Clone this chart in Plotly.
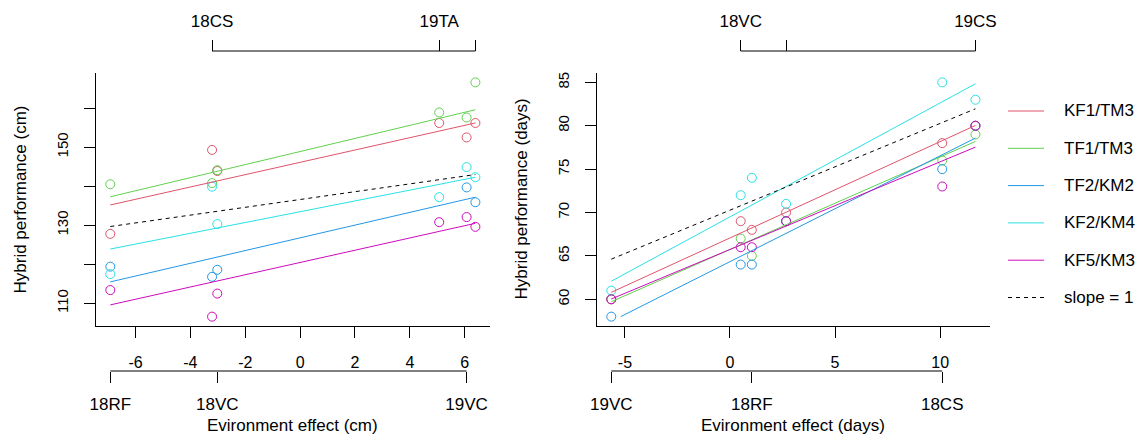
import plotly.graph_objects as go

# ---------------- data ----------------
genotypes = ["KF1/TM3", "TF1/TM3", "TF2/KM2", "KF2/KM4", "KF5/KM3"]
colors = ["#DF536B", "#61D04F", "#2297E6", "#28E2E5", "#CD0BBC"]

# Plant height (cm) panel
env_cm_names = ["18RF", "18CS", "18VC", "19TA", "19VC", ""]
env_cm_effect = [-6.92, -3.21, -3.02, 5.07, 6.07, 6.39]
env_cm_side = ["bottom", "top", "bottom", "top", "bottom", "top"]

cm_KF1_TM3 = [127.8, 149.3, 143.9, 156.2, 152.5, 156.2]
cm_TF1_TM3 = [140.5, 140.8, 144.1, 158.9, 157.6, 166.6]
cm_TF2_KM2 = [119.4, 116.8, 118.6, None, 139.7, 135.9]
cm_KF2_KM4 = [117.5, 139.9, 130.3, 137.2, 144.9, 142.3]
cm_KF5_KM3 = [113.4, 106.6, 112.5, 130.8, 132.1, 129.6]

fit_cm_intercept = [146.12, 148.89, 126.78, 133.47, 120.47]
fit_cm_slope = [1.578, 1.675, 1.630, 1.382, 1.570]
ref_cm_intercept = 136.6  # slope = 1 line

# Flowering time (days) panel
env_d_names = ["19VC", "18VC", "18RF", "", "18CS", "19CS"]
env_d_effect = [-5.65, 0.51, 1.04, 2.67, 10.10, 11.68]
env_d_side = ["bottom", "top", "bottom", "top", "bottom", "top"]

d_KF1_TM3 = [60, 69, 68, 70, 78, 80]
d_TF1_TM3 = [60, 67, 65, 69, 76, 79]
d_TF2_KM2 = [58, 64, 64, 69, 75, 80]
d_KF2_KM4 = [61, 72, 74, 71, 85, 83]
d_KF5_KM3 = [60, 66, 66, 69, 73, 80]

fit_d_intercept = [67.07, 65.74, 64.34, 69.50, 65.74]
fit_d_slope = [1.110, 1.066, 1.219, 1.313, 1.010]
fit_d_xstart = [-5.65, -5.65, -5.20, -5.65, -5.65]
ref_d_intercept = 70.27

cm_ticks = [-6, -4, -2, 0, 2, 4, 6]
cm_yticks = [110, 120, 130, 140, 150, 160]
cm_yticktext = ["110", "", "130", "", "150", ""]
d_ticks = [-5, 0, 5, 10]
d_yticks = [60, 65, 70, 75, 80, 85]

cm_values = [cm_KF1_TM3, cm_TF1_TM3, cm_TF2_KM2, cm_KF2_KM4, cm_KF5_KM3]
d_values = [d_KF1_TM3, d_TF1_TM3, d_TF2_KM2, d_KF2_KM4, d_KF5_KM3]

# ---------------- layout helpers ----------------
OFF = 8                      # default page body margin
W, H = 1144 - OFF, 437 - OFF
FONT = "Liberation Sans, Arial, Helvetica, sans-serif"


def px(p):
    return (p - OFF) / W


def py(p):
    return 1 - (p - OFF) / H


fig = go.Figure()

DASH = "4px,4px"

# left panel
for i, g in enumerate(genotypes):
    fig.add_trace(go.Scatter(x=env_cm_effect, y=cm_values[i], mode="markers",
                             marker=dict(symbol="circle-open", size=9, color=colors[i], line=dict(width=1)),
                             showlegend=False, xaxis="x", yaxis="y", cliponaxis=False))
xmin_cm, xmax_cm = min(env_cm_effect), max(env_cm_effect)
for i, g in enumerate(genotypes):
    fig.add_trace(go.Scatter(x=[xmin_cm, xmax_cm],
                             y=[fit_cm_intercept[i] + fit_cm_slope[i] * xmin_cm,
                                fit_cm_intercept[i] + fit_cm_slope[i] * xmax_cm],
                             mode="lines", line=dict(color=colors[i], width=1),
                             showlegend=False, xaxis="x", yaxis="y"))
fig.add_trace(go.Scatter(x=[xmin_cm, xmax_cm], y=[ref_cm_intercept + xmin_cm, ref_cm_intercept + xmax_cm],
                         mode="lines", line=dict(color="black", width=1, dash=DASH),
                         showlegend=False, xaxis="x", yaxis="y"))

# right panel
for i, g in enumerate(genotypes):
    fig.add_trace(go.Scatter(x=env_d_effect, y=d_values[i], mode="markers",
                             marker=dict(symbol="circle-open", size=9, color=colors[i], line=dict(width=1)),
                             showlegend=False, xaxis="x2", yaxis="y2", cliponaxis=False))
xmax_d = max(env_d_effect)
for i, g in enumerate(genotypes):
    xs = fit_d_xstart[i]
    fig.add_trace(go.Scatter(x=[xs, xmax_d],
                             y=[fit_d_intercept[i] + fit_d_slope[i] * xs,
                                fit_d_intercept[i] + fit_d_slope[i] * xmax_d],
                             mode="lines", line=dict(color=colors[i], width=1),
                             showlegend=False, xaxis="x2", yaxis="y2"))
xmin_d = min(env_d_effect)
fig.add_trace(go.Scatter(x=[xmin_d, xmax_d], y=[ref_d_intercept + xmin_d, ref_d_intercept + xmax_d],
                         mode="lines", line=dict(color="black", width=1, dash=DASH),
                         showlegend=False, xaxis="x2", yaxis="y2"))

# dummy traces so the environment axes are built
for ax, main_y, xs in [("x3", "y", env_cm_effect), ("x4", "y", env_cm_effect),
                       ("x5", "y2", env_d_effect), ("x6", "y2", env_d_effect)]:
    fig.add_trace(go.Scatter(x=xs, y=[None] * len(xs), mode="markers", showlegend=False,
                             hoverinfo="skip", xaxis=ax, yaxis=main_y))


# ranges (R style 4% expansion)
def expand(lo, hi):
    s = (hi - lo) * 0.04
    return [lo - s, hi + s]


cm_vals_flat = [v for row in cm_values for v in row if v is not None]
d_vals_flat = [v for row in d_values for v in row if v is not None]
xr_cm = expand(xmin_cm, xmax_cm)
yr_cm = expand(min(cm_vals_flat), max(cm_vals_flat))
xr_d = expand(xmin_d, xmax_d)
yr_d = expand(min(d_vals_flat), max(d_vals_flat))

L_dom = [px(95.7), px(490)]
R_dom = [px(596.7), px(990)]
Y_dom = [py(326), py(73)]

common_x = dict(showgrid=False, zeroline=False, showline=True, linecolor="black", linewidth=1,
                ticks="outside", ticklen=11, tickcolor="black", tickwidth=1,
                tickfont=dict(family=FONT, size=16, color="black"), automargin=False,
                ticklabelstandoff=11, mirror=False)
common_y = dict(showgrid=False, zeroline=False, showline=True, linecolor="black", linewidth=1,
                ticks="outside", ticklen=11, tickcolor="black", tickwidth=1, tickangle=-90,
                tickfont=dict(family=FONT, size=15, color="black"), automargin=False,
                ticklabelstandoff=10, mirror=False)
env_axis = dict(showgrid=False, zeroline=False, showline=False, ticks="outside", ticklen=11,
                tickcolor="black", tickwidth=1, tickfont=dict(family=FONT, size=17, color="black"),
                automargin=False, anchor="free")


def side_sel(eff, names, sides, which):
    return ([e for e, s in zip(eff, sides) if s == which],
            [n for n, s in zip(names, sides) if s == which])


cb_x, cb_t = side_sel(env_cm_effect, env_cm_names, env_cm_side, "bottom")
ct_x, ct_t = side_sel(env_cm_effect, env_cm_names, env_cm_side, "top")
db_x, db_t = side_sel(env_d_effect, env_d_names, env_d_side, "bottom")
dt_x, dt_t = side_sel(env_d_effect, env_d_names, env_d_side, "top")

BOT_Y = 371
TOP_Y = 51

fig.update_layout(
    width=W, height=H, template="none",
    margin=dict(l=0, r=0, t=0, b=0, pad=0),
    paper_bgcolor="white", plot_bgcolor="white",
    font=dict(family=FONT, color="black"),
    xaxis=dict(domain=L_dom, anchor="y", range=xr_cm, tickvals=cm_ticks,
               ticktext=[str(t) for t in cm_ticks], **common_x),
    yaxis=dict(domain=Y_dom, anchor="x", range=yr_cm, tickvals=cm_yticks, ticktext=cm_yticktext, **common_y),
    xaxis2=dict(domain=R_dom, anchor="y2", range=xr_d, tickvals=d_ticks,
                ticktext=[str(t) for t in d_ticks], **common_x),
    yaxis2=dict(domain=Y_dom, anchor="x2", range=yr_d, tickvals=d_yticks, **common_y),
    xaxis3=dict(overlaying="x", side="bottom", position=py(BOT_Y), range=xr_cm, tickvals=cb_x, ticktext=cb_t,
                ticklabelstandoff=7, **env_axis),
    xaxis4=dict(overlaying="x", side="top", position=py(TOP_Y), range=xr_cm, tickvals=ct_x, ticktext=ct_t,
                ticklabelstandoff=6, **env_axis),
    xaxis5=dict(overlaying="x2", side="bottom", position=py(BOT_Y), range=xr_d, tickvals=db_x, ticktext=db_t,
                ticklabelstandoff=7, **env_axis),
    xaxis6=dict(overlaying="x2", side="top", position=py(TOP_Y), range=xr_d, tickvals=dt_x, ticktext=dt_t,
                ticklabelstandoff=6, **env_axis),
    showlegend=False,
)

shapes = []
for xref, xs, yy in [("x", cb_x, BOT_Y), ("x", ct_x, TOP_Y), ("x2", db_x, BOT_Y), ("x2", dt_x, TOP_Y)]:
    shapes.append(dict(type="line", xref=xref, yref="paper", x0=min(xs), x1=max(xs),
                       y0=py(yy), y1=py(yy), line=dict(color="black", width=1)))

annotations = []
TITLE_SIZE = 17
annotations.append(dict(text="Evironment effect (cm)", xref="paper", yref="paper", x=sum(L_dom) / 2, y=py(425),
                        xanchor="center", yanchor="middle", showarrow=False, font=dict(size=TITLE_SIZE)))
annotations.append(dict(text="Evironment effect (days)", xref="paper", yref="paper", x=sum(R_dom) / 2, y=py(425),
                        xanchor="center", yanchor="middle", showarrow=False, font=dict(size=TITLE_SIZE)))
annotations.append(dict(text="Hybrid performance (cm)", xref="paper", yref="paper", x=px(20), y=sum(Y_dom) / 2,
                        xanchor="center", yanchor="middle", showarrow=False, textangle=-90, font=dict(size=TITLE_SIZE)))
annotations.append(dict(text="Hybrid performance (days)", xref="paper", yref="paper", x=px(521), y=sum(Y_dom) / 2,
                        xanchor="center", yanchor="middle", showarrow=False, textangle=-90, font=dict(size=TITLE_SIZE)))

# legend (drawn manually to match base-R legend layout)
leg_labels = genotypes + ["slope = 1"]
leg_colors = colors + ["black"]
leg_dash = ["solid"] * len(genotypes) + [DASH]
LEG_Y0, LEG_DY = 111, 37.3
for k, (lab, col, ds) in enumerate(zip(leg_labels, leg_colors, leg_dash)):
    yy = LEG_Y0 + k * LEG_DY
    shapes.append(dict(type="line", xref="paper", yref="paper", x0=px(1008), x1=px(1044),
                       y0=py(yy), y1=py(yy), line=dict(color=col, width=1, dash=ds)))
    annotations.append(dict(text=lab, xref="paper", yref="paper", x=px(1062), y=py(yy),
                            xanchor="left", yanchor="middle", showarrow=False, font=dict(size=17)))

fig.update_layout(shapes=shapes, annotations=annotations)
fig.write_html("out.html")
